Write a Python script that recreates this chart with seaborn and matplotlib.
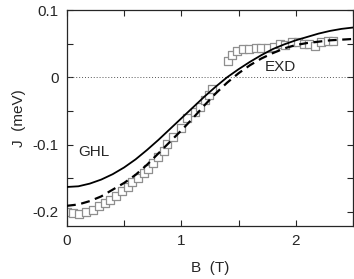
import matplotlib
matplotlib.use("Agg")
import matplotlib.pyplot as plt
from matplotlib.ticker import MultipleLocator, FuncFormatter
import seaborn as sns

# ---- data ----
b_curve = [0.0, 0.1, 0.2, 0.3, 0.4, 0.5, 0.6, 0.7, 0.8, 0.9, 1.0, 1.1, 1.2,
           1.3, 1.4, 1.5, 1.6, 1.7, 1.8, 1.9, 2.0, 2.1, 2.2, 2.3, 2.4, 2.5]
j_ghl = [-0.163, -0.162, -0.158, -0.152, -0.144, -0.134, -0.122, -0.108, -0.093,
         -0.077, -0.061, -0.045, -0.029, -0.014, 0.000, 0.012, 0.023, 0.033,
         0.042, 0.049, 0.055, 0.060, 0.065, 0.069, 0.072, 0.074]
j_exd = [-0.191, -0.189, -0.184, -0.177, -0.167, -0.157, -0.145, -0.130, -0.113,
         -0.096, -0.079, -0.061, -0.042, -0.024, -0.008, 0.006, 0.018, 0.028,
         0.036, 0.043, 0.048, 0.051, 0.053, 0.055, 0.056, 0.057]

b_meas = [0.00, 0.055, 0.11, 0.17, 0.23, 0.28, 0.33, 0.38, 0.43, 0.48, 0.53, 0.57,
          0.62, 0.67, 0.71, 0.75, 0.80, 0.85, 0.875, 0.93, 1.00, 1.05, 1.12, 1.16,
          1.21, 1.24, 1.27,
          1.41, 1.44, 1.49, 1.54, 1.59, 1.65, 1.70, 1.76, 1.81, 1.86, 1.91, 1.97,
          2.02, 2.07, 2.12, 2.17, 2.22, 2.28, 2.33]
j_meas = [-0.200, -0.202, -0.203, -0.200, -0.197, -0.192, -0.187, -0.182, -0.176,
          -0.169, -0.163, -0.156, -0.149, -0.142, -0.136, -0.127, -0.118, -0.109,
          -0.099, -0.089, -0.075, -0.061, -0.052, -0.044, -0.034, -0.027, -0.017,
          0.024, 0.033, 0.039, 0.042, 0.042, 0.043, 0.043, 0.044, 0.045, 0.049,
          0.048, 0.052, 0.052, 0.049, 0.050, 0.047, 0.053, 0.054, 0.054]

sns.set_style("ticks")
plt.rcParams["font.family"] = ["Liberation Sans", "DejaVu Sans"]

fig = plt.figure(figsize=(3.54, 2.79), dpi=100)
ax = fig.add_axes([0.189, 0.19, 0.808, 0.774])

ax.axhline(0, color="#555555", lw=0.7, ls=(0, (1, 2)), zorder=1)

sns.lineplot(x=b_curve, y=j_ghl, ax=ax, color="black", lw=1.3, zorder=3)
sns.lineplot(x=b_curve, y=j_exd, ax=ax, color="black", lw=1.6, zorder=3,
             linestyle=(0, (4, 2.5)))
sns.scatterplot(x=b_meas, y=j_meas, ax=ax, marker="s", s=36,
                facecolor="white", edgecolor="#8f8f8f", linewidth=0.9, zorder=2)

ax.text(0.24, -0.111, "GHL", fontsize=11, ha="center", va="center")
ax.text(1.87, 0.016, "EXD", fontsize=11, ha="center", va="center")

ax.set_xlim(0, 2.5)
ax.set_ylim(-0.221, 0.1)
ax.xaxis.set_major_locator(MultipleLocator(1))
ax.xaxis.set_minor_locator(MultipleLocator(0.5))
ax.yaxis.set_major_locator(MultipleLocator(0.1))
ax.yaxis.set_minor_locator(MultipleLocator(0.05))
ax.yaxis.set_major_formatter(FuncFormatter(lambda v, p: "0" if abs(v) < 1e-9 else f"{v:.1f}"))
ax.tick_params(which="both", direction="in", top=True, right=True, length=4,
               width=0.8, labelsize=11, pad=6)
for s in ax.spines.values():
    s.set_linewidth(0.9)

ax.set_xlabel("B  (T)", fontsize=11, labelpad=9)
ax.set_ylabel("J  (meV)", fontsize=11, labelpad=5)

fig.savefig("out.png", dpi=100)
